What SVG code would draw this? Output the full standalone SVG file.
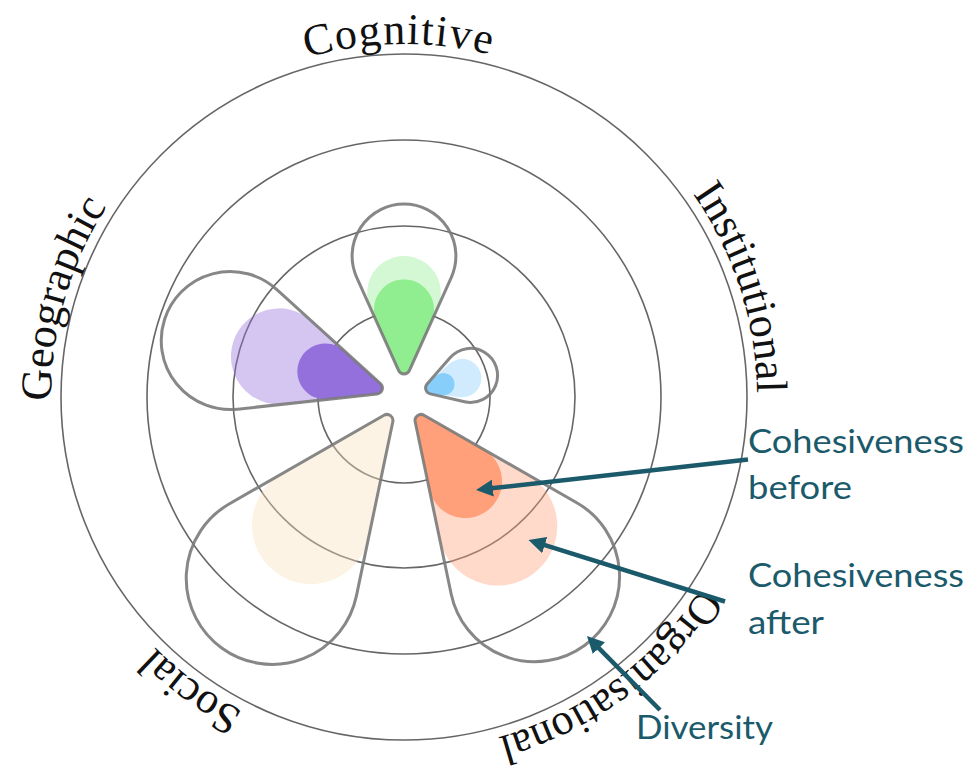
<svg xmlns="http://www.w3.org/2000/svg" width="980" height="769" viewBox="0 0 980 769">
<style>
.ring{fill:none;stroke:#666;stroke-width:1.6}
.div{fill:none;stroke:#7a7a7a;stroke-width:3;stroke-opacity:.9;stroke-linejoin:round}
.lbl{font-family:"Liberation Serif","Times New Roman",serif;font-size:44px;fill:#111}
.ann{font-family:Lato,"Open Sans",sans-serif;font-size:32px;fill:#1b5a6b}
.arr{stroke:#1b5a6b;stroke-width:4.5;fill:none}
.aft{fill-opacity:.4}
</style>
<defs>
<path id="lp" d="M404,750 A353,353 0 1 1 404,44 A353,353 0 1 1 404,750"/>
<marker id="ah" markerUnits="userSpaceOnUse" markerWidth="17" markerHeight="17" viewBox="0 0 17 17" refX="4" refY="8.5" orient="auto"><path d="M0,0L17,8.5L0,17Z" fill="#1b5a6b"/></marker>
</defs>
<rect width="980" height="769" fill="#fff"/>
<g id="rings">
<circle class="ring" cx="404" cy="397" r="86"/>
<circle class="ring" cx="404" cy="397" r="171"/>
<circle class="ring" cx="404" cy="397" r="257"/>
<circle class="ring" cx="404" cy="397" r="343"/>
</g>
<g id="cognitive" transform="translate(404 397) rotate(-90)">
<path class="aft" fill="#90EE90" d="M26.54,5.47L89.07,33.56A36.8,36.8 0 1 0 89.07,-33.56L26.54,-5.47A6,6 0 0 0 26.54,5.47Z"/>
<path fill="#90EE90" d="M26.54,5.47L75.27,27.36A30,30 0 1 0 75.27,-27.36L26.54,-5.47A6,6 0 0 0 26.54,5.47Z"/>
<path class="div" d="M26.54,5.47L119.7,47.33A51.9,51.9 0 1 0 119.7,-47.33L26.54,-5.47A6,6 0 0 0 26.54,5.47Z"/>
</g>
<g id="institutional" transform="translate(404 397) rotate(-18)">
<path class="aft" fill="#87CEFA" d="M26.54,5.47L53.36,17.51A19.2,19.2 0 1 0 53.36,-17.51L26.54,-5.47A6,6 0 0 0 26.54,5.47Z"/>
<path fill="#87CEFA" d="M26.54,5.47L36.92,10.12A11.1,11.1 0 1 0 36.92,-10.12L26.54,-5.47A6,6 0 0 0 26.54,5.47Z"/>
<path class="div" d="M25.93,5.15L56.17,23.19A27,27 0 1 0 56.17,-23.19L25.93,-5.15A6,6 0 0 0 25.93,5.15Z"/>
</g>
<g id="organisational" transform="translate(404 397) rotate(54)">
<path class="aft" fill="#FFA07A" d="M26.54,5.47L135.13,54.26A59.5,59.5 0 1 0 135.13,-54.26L26.54,-5.47A6,6 0 0 0 26.54,5.47Z"/>
<path fill="#FFA07A" d="M26.54,5.47L89.07,33.56A36.8,36.8 0 1 0 89.07,-33.56L26.54,-5.47A6,6 0 0 0 26.54,5.47Z"/>
<path class="div" d="M26.54,5.47L187.07,77.61A85.1,85.1 0 1 0 187.07,-77.61L26.54,-5.47A6,6 0 0 0 26.54,5.47Z"/>
</g>
<g id="social" transform="translate(404 397) rotate(126)">
<path class="aft" fill="#F8E0BC" d="M26.54,5.47L134.11,53.81A59,59 0 1 0 134.11,-53.81L26.54,-5.47A6,6 0 0 0 26.54,5.47Z"/>
<path class="div" d="M26.54,5.47L188.89,78.43A86,86 0 1 0 188.89,-78.43L26.54,-5.47A6,6 0 0 0 26.54,5.47Z"/>
</g>
<g id="geographic" transform="translate(404 397) rotate(198)">
<path class="aft" fill="#9370DB" d="M26.54,5.47L111.79,43.78A48,48 0 1 0 111.79,-43.78L26.54,-5.47A6,6 0 0 0 26.54,5.47Z"/>
<path fill="#9370DB" d="M26.54,5.47L71.21,25.54A28,28 0 1 0 71.21,-25.54L26.54,-5.47A6,6 0 0 0 26.54,5.47Z"/>
<path class="div" d="M26.54,5.47L154.4,62.93A69,69 0 1 0 154.4,-62.93L26.54,-5.47A6,6 0 0 0 26.54,5.47Z"/>
</g>
<g id="labels">
<text class="lbl" text-anchor="middle"><textPath href="#lp" startOffset="221.8">Social</textPath></text>
<text class="lbl" text-anchor="middle"><textPath href="#lp" startOffset="653.1">Geographic</textPath></text>
<text class="lbl" text-anchor="middle" letter-spacing="1.5"><textPath href="#lp" startOffset="1103.5">Cognitive</textPath></text>
<text class="lbl" text-anchor="middle"><textPath href="#lp" startOffset="1552.6">Institutional</textPath></text>
<text class="lbl" text-anchor="middle"><textPath href="#lp" startOffset="1993.1">Organisational</textPath></text>
</g>
<g id="connectors">
<path class="arr" d="M748,459.5L488.9,488.55" marker-end="url(#ah)"/>
<path class="arr" d="M725,601.5L540.9,543.9" marker-end="url(#ah)"/>
<path class="arr" d="M660,710L596.1,645.3" marker-end="url(#ah)"/>
</g>
<g id="annotations">
<text class="ann" x="748" y="452.7" textLength="216" lengthAdjust="spacingAndGlyphs">Cohesiveness</text>
<text class="ann" x="748" y="499.3" textLength="104" lengthAdjust="spacingAndGlyphs">before</text>
<text class="ann" x="748" y="586.7" textLength="216" lengthAdjust="spacingAndGlyphs">Cohesiveness</text>
<text class="ann" x="748" y="634" textLength="76" lengthAdjust="spacingAndGlyphs">after</text>
<text class="ann" x="636" y="739" textLength="137" lengthAdjust="spacingAndGlyphs">Diversity</text>
</g>
</svg>
